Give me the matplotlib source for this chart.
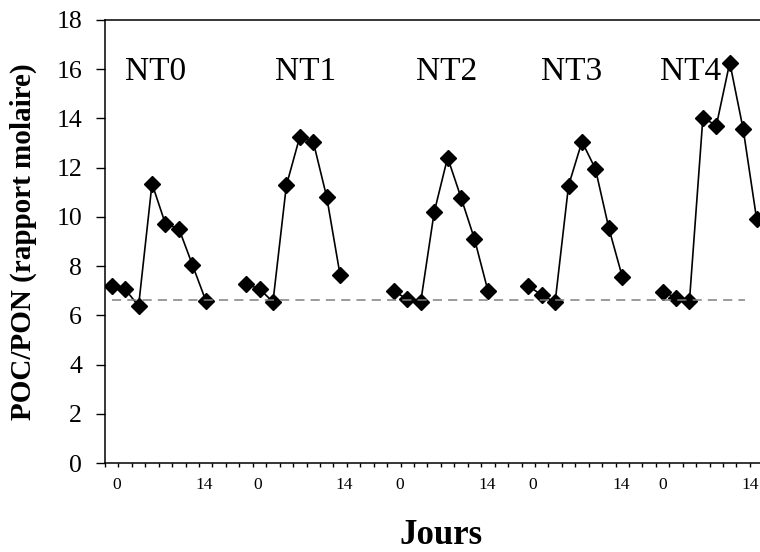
import matplotlib
matplotlib.use("Agg")
import matplotlib.pyplot as plt
import matplotlib.transforms as mtransforms
import numpy as np

# --- donnees (rapport molaire POC/PON) ---
groupes = ["NT0", "NT1", "NT2", "NT3", "NT4"]
debut_groupe = [0, 10, 21, 31, 41]          # premiere categorie de chaque serie
nt0 = [7.20, 7.06, 6.38, 11.35, 9.71, 9.52, 8.06, 6.60]
nt1 = [7.26, 7.08, 6.54, 11.28, 13.26, 13.05, 10.81, 7.63]
nt2 = [6.99, 6.65, 6.55, 10.19, 12.41, 10.78, 9.10, 7.00]
nt3 = [7.19, 6.83, 6.53, 11.27, 13.06, 11.95, 9.54, 7.57]
nt4 = [6.96, 6.72, 6.59, 14.03, 13.71, 16.27, 13.56, 9.91]
series = [nt0, nt1, nt2, nt3, nt4]
ligne_ref = 6.62

# etiquettes des jours (0 et 14 sous chaque serie)
jours_labels = ["0", "14"]
pos_jours = [(0.35, 6.91), (10.86, 17.33), (21.43, 27.91), (31.34, 37.89), (41.02, 47.5)]
pos_groupes = [3.29, 14.4, 24.9, 34.2, 43.1]

plt.rcParams['font.family'] = ['Liberation Serif', 'DejaVu Serif']

fig = plt.figure(figsize=(7.6, 5.52), dpi=100)
ax = fig.add_axes([105 / 760, 89 / 552, 655 / 760, 443 / 552])

for debut, vals in zip(debut_groupe, series):
    x = np.arange(debut, debut + len(vals))
    ax.plot(x, vals, color='black', lw=1.2, marker='D', markersize=8,
            markerfacecolor='black', markeredgecolor='black')

ax.plot([0, 47.1], [ligne_ref, ligne_ref], color='#808080', lw=1.1,
        dashes=(6, 4))

ax.set_xlim(-0.5, 48.25)
ax.set_ylim(0, 18)
ax.set_yticks(np.arange(0, 19, 2))
ax.tick_params(axis='y', direction='out', length=6.5, width=1.0, pad=10,
               labelsize=18.5)
ax.set_xticks(np.arange(-0.5, 48.5, 1.0))
ax.set_xticklabels([])
ax.tick_params(axis='x', direction='out', length=3, width=1.0)

ax.spines['right'].set_visible(False)
for s in ['left', 'top', 'bottom']:
    ax.spines[s].set_linewidth(1.1)

# noms des series
for nom, xp in zip(groupes, pos_groupes):
    ax.text(xp, 15.9, nom, fontsize=24, ha='center', va='center')

# jours sous l'axe
trans = mtransforms.blended_transform_factory(ax.transData, fig.transFigure)
for (x0, x14) in pos_jours:
    ax.text(x0, 1 - 485 / 552, jours_labels[0], fontsize=12.5, ha='center',
            va='center', transform=trans)
    ax.text(x14, 1 - 485 / 552, jours_labels[1], fontsize=12.5, ha='center',
            va='center', transform=trans)

fig.text(441 / 760, 1 - 535 / 552, 'Jours', fontsize=25, fontweight='bold',
         ha='center', va='center')
fig.text(23 / 760, 1 - 242 / 552, 'POC/PON (rapport molaire)', fontsize=21,
         fontweight='bold', rotation=90, ha='center', va='center')

fig.savefig('out.png', dpi=100)
